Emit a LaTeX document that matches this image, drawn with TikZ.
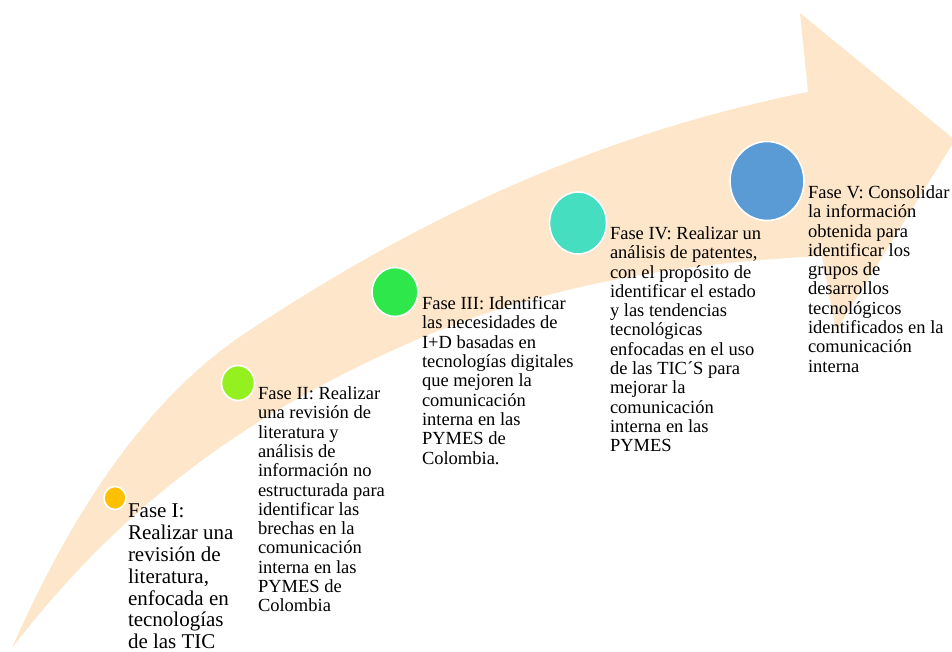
\documentclass[tikz,border=0pt]{standalone}
\usepackage{fontspec}
\setmainfont{Liberation Serif}
\usetikzlibrary{shapes.geometric,positioning}

\definecolor{bandfill}{HTML}{FDE6C9}
\definecolor{dotone}{HTML}{FFC000}
\definecolor{dottwo}{HTML}{95F01F}
\definecolor{dotthree}{HTML}{2EE84B}
\definecolor{dotfour}{HTML}{45DEC0}
\definecolor{dotfive}{HTML}{5B9BD5}

\begin{document}
\begin{tikzpicture}[x=1pt,y=-1pt,
    phase_dot/.style ={ellipse, draw=white, line width=1.6pt, inner sep=0pt},
    phase_text/.style ={align=left, inner sep=0pt, anchor=north west,
      font=\fontsize{18.5}{19.3}\selectfont}]
    \useasboundingbox (0,0) rectangle (952,652);
    % the curved arrow behind everything
    \fill[bandfill] (12,648) .. controls (85,482) and (165,385) .. (250,330)
      .. controls (430,211) and (608,132) .. (808,92)
      -- (800,13) -- (955,140) -- (836,331) -- (822,256)
      .. controls (682,263) and (540,284) .. (400,347)
      .. controls (230,423) and (112,518) .. (12,648) -- cycle;
    % phase markers
    \node[phase_dot, fill=dotone, minimum width=22pt, minimum height=23pt] (dotI) at (115,498) {};
    \node[phase_dot, fill=dottwo, minimum width=33pt, minimum height=35pt] (dotII) at (238,383) {};
    \node[phase_dot, fill=dotthree, minimum width=46pt, minimum height=49pt] (dotIII) at (395,292) {};
    \node[phase_dot, fill=dotfour, minimum width=57pt, minimum height=62pt] (dotIV) at (578,223) {};
    \node[phase_dot, fill=dotfive, minimum width=74pt, minimum height=79pt] (dotV) at (767,181) {};
    % phase texts, hanging from the markers
    \node[phase_text, font=\fontsize{21}{21.8}\selectfont] (txtI)
      at ([xshift=1pt,yshift=-6pt]dotI.east)
      {Fase I:\\Realizar una\\revisión de\\literatura,\\enfocada en\\tecnologías\\de las TIC};
    \node[phase_text] (txtII) at ([xshift=2.5pt,yshift=-3.5pt]dotII.east)
      {Fase II: Realizar\\una revisión de\\literatura y\\análisis de\\información no\\estructurada para\\identificar las\\brechas en la\\comunicación\\interna en las\\PYMES de\\Colombia};
    \node[phase_text] (txtIII) at ([xshift=3pt,yshift=-4.4pt]dotIII.east)
      {Fase III: Identificar\\las necesidades de\\I+D basadas en\\tecnologías digitales\\que mejoren la\\comunicación\\interna en las\\PYMES de\\Colombia.};
    \node[phase_text] (txtIV) at ([xshift=2.5pt,yshift=-3.4pt]dotIV.east)
      {Fase IV: Realizar un\\análisis de patentes,\\con el propósito de\\identificar el estado\\y las tendencias\\tecnológicas\\enfocadas en el uso\\de las TIC´S para\\mejorar la\\comunicación\\interna en las\\PYMES};
    \node[phase_text] (txtV) at ([xshift=3pt,yshift=-4.4pt]dotV.east)
      {Fase V: Consolidar\\la información\\obtenida para\\identificar los\\grupos de\\desarrollos\\tecnológicos\\identificados en la\\comunicación\\interna};
\end{tikzpicture}
\end{document}
